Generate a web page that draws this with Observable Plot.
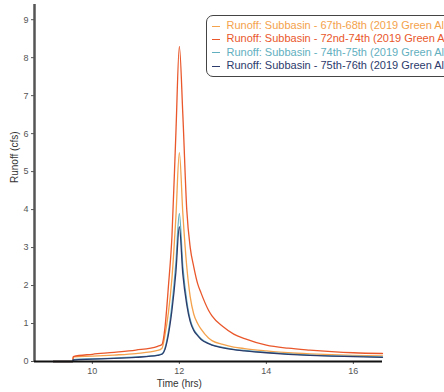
<!DOCTYPE html>
<html><head><meta charset="utf-8">
<script src="https://cdn.jsdelivr.net/npm/d3@7"></script>
<script src="https://cdn.jsdelivr.net/npm/@observablehq/plot@0.6"></script>
<style>
html,body{margin:0;padding:0;background:#fff;overflow:hidden;width:444px;height:392px;}
#wrap{position:relative;width:444px;height:392px;font-family:"Liberation Sans",Arial,sans-serif;}
#legend{position:absolute;left:206px;top:15px;width:260px;height:62px;border:1.5px solid #444;border-radius:7px;background:#fff;font-size:11px;line-height:13.4px;padding-top:3px;box-sizing:border-box;}
#legend div{white-space:nowrap;padding-left:4.5px;}
#legend span.sw{display:inline-block;width:8px;height:0;border-top:1.5px solid;vertical-align:middle;margin-right:7px;}
</style></head>
<body><div id="wrap"></div>
<script>
const times = [9.1, 9.55, 9.56, 10, 10.5, 11, 11.5, 11.6, 11.67, 11.75, 11.83, 11.92, 12.0, 12.08, 12.17, 12.25, 12.33, 12.42, 12.5, 12.67, 12.75, 13, 13.25, 13.5, 14, 14.5, 15, 15.5, 16, 16.67];
const seriesNames = [
  "Runoff: Subbasin - 67th-68th (2019 Green Al",
  "Runoff: Subbasin - 72nd-74th (2019 Green A",
  "Runoff: Subbasin - 74th-75th (2019 Green Al",
  "Runoff: Subbasin - 75th-76th (2019 Green Al"
];
const colors = ["#f4a24c", "#e9572b", "#62afc0", "#2c3b6b"];
const runoff67 = [0, 0, 0.12, 0.14, 0.17, 0.21, 0.29, 0.35, 0.7, 1.3, 2.2, 3.8, 5.5, 3.9, 2.5, 1.7, 1.25, 1.0, 0.85, 0.62, 0.55, 0.45, 0.38, 0.34, 0.28, 0.23, 0.20, 0.18, 0.16, 0.15];
const runoff72 = [0, 0, 0.13, 0.19, 0.24, 0.30, 0.40, 0.45, 0.9, 2.0, 3.3, 6.0, 8.3, 6.5, 4.0, 3.0, 2.5, 2.05, 1.8, 1.35, 1.2, 0.92, 0.72, 0.60, 0.43, 0.35, 0.30, 0.26, 0.23, 0.21];
const runoff74 = [0, 0, 0.05, 0.07, 0.09, 0.12, 0.17, 0.20, 0.35, 0.8, 1.5, 2.6, 3.9, 2.5, 1.6, 1.1, 0.85, 0.70, 0.60, 0.48, 0.44, 0.37, 0.32, 0.29, 0.24, 0.20, 0.17, 0.15, 0.14, 0.12];
const runoff75 = [0, 0, 0.04, 0.06, 0.08, 0.11, 0.16, 0.19, 0.32, 0.72, 1.35, 2.35, 3.55, 2.3, 1.5, 1.05, 0.82, 0.68, 0.58, 0.47, 0.43, 0.36, 0.31, 0.28, 0.23, 0.19, 0.16, 0.14, 0.13, 0.11];
const yTicks = [0,1,2,3,4,5,6,7,8,9];
const xTicks = [10,12,14,16];

const allSeries = [runoff67, runoff72, runoff74, runoff75];
const data = [];
allSeries.forEach((vals, i) => vals.forEach((v, j) => data.push({t: times[j], v, s: seriesNames[i]})));

const chart = Plot.plot({
  width: 444, height: 392,
  marginLeft: 34, marginRight: 62, marginTop: 4, marginBottom: 31,
  style: {fontFamily: "Liberation Sans, Arial, sans-serif", fontSize: "9px", color: "#555", background: "#fff"},
  x: {domain: [8.67, 16.67], ticks: xTicks, tickSize: 3, tickPadding: 3, label: null},
  y: {domain: [0, 9.4], ticks: yTicks, tickSize: 3, tickPadding: 3, label: null},
  color: {domain: seriesNames, range: colors},
  marks: [
    Plot.line(data, {x: "t", y: "v", z: "s", stroke: "s", strokeWidth: 1.3, curve: "monotone-x"}),
    Plot.ruleX([8.67], {stroke: "#555", strokeWidth: 2.5}),
    Plot.ruleY([0], {stroke: "#111", strokeWidth: 2}),
    Plot.text(["Time (hrs)"], {frameAnchor: "bottom", dy: 25, fontSize: 10, fill: "#333", x: () => 12, text: d => d}),
    Plot.text(["Runoff (cfs)"], {frameAnchor: "left", dx: -20, rotate: -90, fontSize: 10, fill: "#333", text: d => d})
  ]
});
const wrap = document.getElementById("wrap");
wrap.appendChild(chart);
const lg = document.createElement("div");
lg.id = "legend";
seriesNames.forEach((n, i) => {
  const row = document.createElement("div");
  row.style.color = colors[i];
  row.innerHTML = `<span class="sw" style="border-color:${colors[i]}"></span>${n}`;
  lg.appendChild(row);
});
wrap.appendChild(lg);
</script></body></html>
